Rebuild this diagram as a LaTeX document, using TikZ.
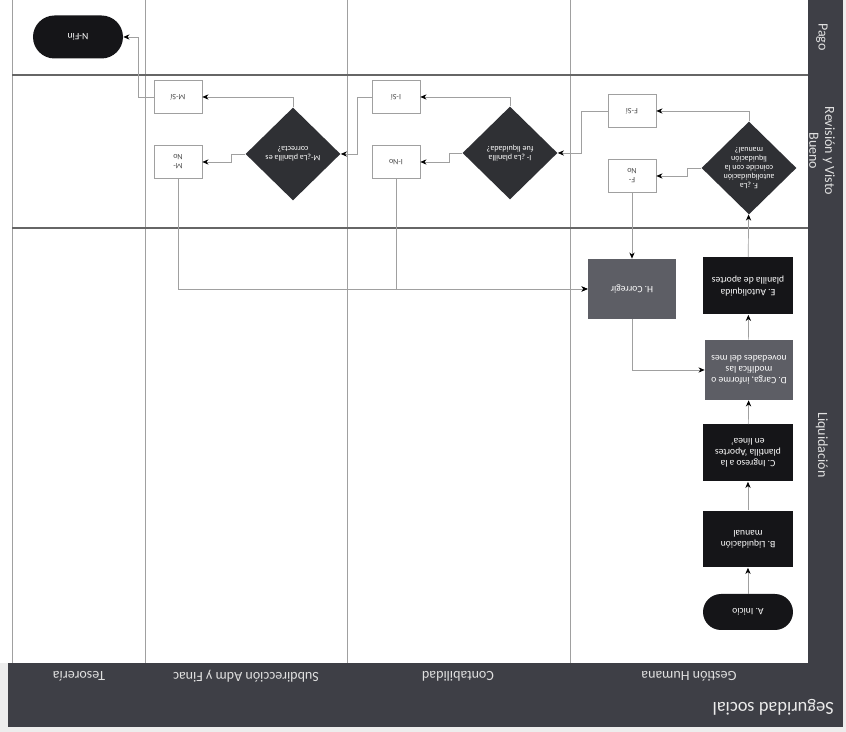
\documentclass[tikz,border=0pt]{standalone}
\usepackage{fontspec}
\setmainfont{Carlito}
\usepackage{tikz}
\usetikzlibrary{shapes.geometric, calc, arrows.meta}
\usetikzlibrary{positioning}

\definecolor{banda}{HTML}{3E3F46}
\definecolor{negro}{HTML}{151518}
\definecolor{gris}{HTML}{5D5E65}
\definecolor{rombo}{HTML}{2F3034}
\definecolor{linea}{HTML}{A0A0A0}

\tikzset{
  paso/.style={rectangle, fill=negro, text=white, minimum width=1.8cm, minimum height=1.14cm,
    align=center, font=\fontsize{5.5}{6.4}\selectfont, inner sep=1pt},
  pasogris/.style={paso, fill=gris, minimum width=1.76cm, minimum height=1.2cm},
  termino/.style={paso, rounded corners=0.36cm, minimum height=0.72cm},
  decision/.style={diamond, fill=rombo, text=white, minimum width=1.9cm, minimum height=1.86cm,
    align=center, font=\fontsize{4.6}{5.2}\selectfont, inner sep=0pt},
  salida/.style={rectangle, draw=linea, fill=white, minimum width=0.96cm, minimum height=0.67cm,
    align=center, font=\fontsize{4.6}{5.2}\selectfont, text=black!70, inner sep=1pt,
    path picture={
      \draw[linea] ([xshift=0.12cm]path picture bounding box.north west) -- ([xshift=0.12cm]path picture bounding box.south west);
      \draw[linea] ([xshift=-0.12cm]path picture bounding box.north east) -- ([xshift=-0.12cm]path picture bounding box.south east);}},
  flujo/.style={->, >={Stealth[black, length=3.5pt, width=3pt]}, linea, thin},
  carril/.style={font=\fontsize{8}{9}\selectfont, text=black!12},
  fase/.style={font=\fontsize{8}{9}\selectfont, text=black!12, rotate=90, align=center},
}

\begin{document}
\begin{tikzpicture}[x=0.02cm, y=0.02cm, rotate=180, transform shape]
  \useasboundingbox (0,0) rectangle (846,732);
  \fill[black!7] (0,0) rectangle (846,732); % fondo
  \fill[white] (38,0) rectangle (846,663);
  \fill[banda] (3,663) rectangle (838,727); % encabezado
  \fill[banda] (3,0) rectangle (38,727); % fases
  \draw[linea] (834,0) -- (834,663);
  \foreach \x in {276,499,701} \draw[linea, thin] (\x,0) -- (\x,663); % carriles
  \foreach \y in {75,228} \draw[black!60, line width=0.7pt] (38,\y) -- (834,\y); % fases

  \node[font=\fontsize{10.5}{12}\selectfont, text=black!8, anchor=west] (titulo) at (6,707) {Seguridad social};
  \node[carril] (gh) at (157,676) {Gestión Humana};
  \node[carril] (cont) at (388,676) {Contabilidad};
  \node[carril] (subd) at (600,676) {Subdirección Adm y Finac};
  \node[carril] (teso) at (767,676) {Tesorería};
  \node[fase] (fliq) at (24,445) {Liquidación};
  \node[fase] (frev) at (24,151) {Revisión y Visto\\Bueno};
  \node[fase] (fpag) at (24,37) {Pago};

  % Gestion Humana
  \node[termino] (ini) at (98,612) {A. Inicio};
  \node[paso] (liqm) at (98,539) {B. Liquidación\\manual};
  \node[paso] (ingr) at (98,453) {C. Ingreso a la\\plantilla `Aportes\\en línea'};
  \node[pasogris] (carga) at (97,370) {D. Carga, informe o\\modifica las\\novedades del mes};
  \node[paso] (autol) at (98,286) {E. Autoliquida\\planilla de aportes};
  \node[decision] (coinc) at (97,168) {F. ¿La\\autoliquidación\\coincide con la\\liquidación\\manual?};
  \node[salida] (fsi) at (214,111) {F-Sí};
  \node[salida] (fno) at (214,176) {F-\\No};
  \node[pasogris] (hcorr) at (214,289) {H. Corregir};
  % Contabilidad
  \node[decision] (iliq) at (336,153) {I- ¿La planilla\\fue liquidada?};
  \node[salida] (isi) at (450,97) {I-Sí};
  \node[salida] (ino) at (450,162) {I-No};
  % Subdireccion
  \node[decision] (mcor) at (553,154) {M-¿La planilla es\\correcta?};
  \node[salida] (msi) at (668,97) {M-Sí};
  \node[salida] (mno) at (668,162) {M-\\No};
  % Tesoreria
  \node[termino, minimum height=0.86cm, rounded corners=0.43cm] (fin) at (768,37) {N-Fin};

  \draw[flujo] (ini) -- (liqm);
  \draw[flujo] (liqm) -- (ingr);
  \draw[flujo] (ingr) -- (carga);
  \draw[flujo] (carga) -- (autol);
  \draw[flujo] (autol) -- (coinc);
  \draw[flujo] (coinc.south) |- (fsi.west);
  \draw[flujo] (coinc.east) -- ++(14,0) |- (fno.west);
  \draw[flujo] (fno) -- (hcorr);
  \draw[flujo] (hcorr.north) |- (carga.east);
  \draw[flujo] (fsi.east) -- ++(26,0) |- (iliq.west);
  \draw[flujo] (iliq.south) |- (isi.west);
  \draw[flujo] (iliq.east) -- ++(13,0) |- (ino.west);
  \draw[flujo] (isi.east) -- ++(14,0) |- (mcor.west);
  \draw[flujo] (mcor.south) |- (msi.west);
  \draw[flujo] (mcor.east) -- ++(14,0) |- (mno.west);
  \draw[flujo] (msi.east) -- ++(15,0) |- (fin.west);
  \draw[flujo] (ino.north) |- (hcorr.east);
  \draw[flujo] (mno.north) |- (hcorr.east);
\end{tikzpicture}
\end{document}
